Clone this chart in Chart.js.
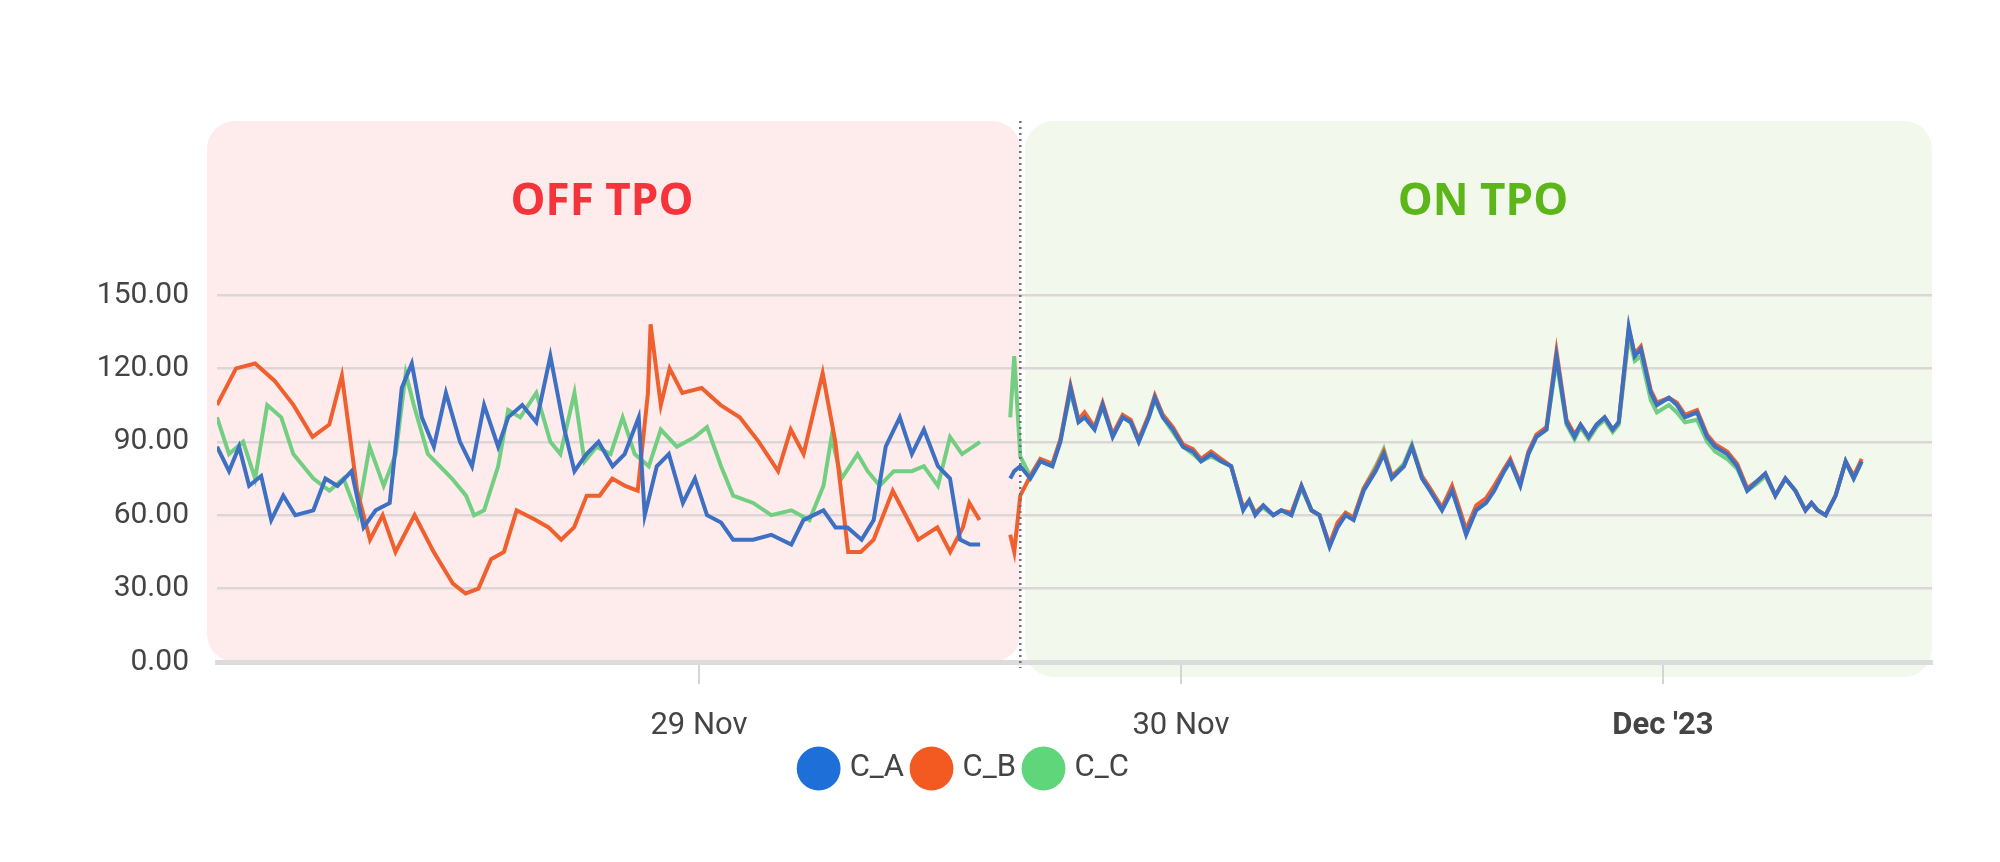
<!DOCTYPE html>
<html><head><meta charset="utf-8">
<script src="https://cdn.jsdelivr.net/npm/chart.js@4"></script>
<style>html,body{margin:0;background:#fff}#w{width:2000px;height:862px}</style>
</head><body><div id="w"><canvas id="c"></canvas></div>
<script>
const seriesNames = ['C_A','C_B','C_C'];
const yTicks = [0,30,60,90,120,150];
const xTickLabels = {24:'29 Nov',48:'30 Nov',72:"Dec '23"};
// hours since 28 Nov 00:00
const tOffA = [0,0.6,1.1,1.6,2.2,2.7,3.3,3.9,4.8,5.4,6.0,6.7,7.3,7.9,8.6,9.2,9.7,10.2,10.8,11.4,12.1,12.7,13.3,14.0,14.5,15.2,15.9,16.6,17.3,17.8,18.4,19.0,19.7,20.3,21.0,21.3,21.9,22.5,23.2,23.8,24.4,25.1,25.7,26.7,27.6,28.6,29.2,30.2,30.8,31.4,32.1,32.7,33.3,34.0,34.6,35.2,35.9,36.5,37.0,37.5,38.0];
const vOffA = [88,78,88,72,76,58,68,60,62,75,72,78,55,62,65,112,122,100,88,110,90,80,105,88,100,105,98,125,95,78,85,90,80,85,100,60,80,85,65,75,60,57,50,50,52,48,58,62,55,55,50,58,88,100,85,95,80,75,50,48,48];
const tOffB = [0,0.95,1.9,2.86,3.81,4.76,5.59,6.22,6.98,7.62,8.25,8.89,9.84,10.79,11.75,12.38,13.02,13.65,14.29,14.92,15.87,16.51,17.14,17.78,18.41,19.05,19.68,20.32,20.95,21.46,21.59,22.1,22.54,23.17,24.13,25.08,26.03,26.98,27.94,28.57,29.21,30.16,30.79,31.43,32.06,32.7,33.65,34.29,34.92,35.87,36.51,37.14,37.46,37.97];
const vOffB = [105,120,122,115,105,92,97,117,70,50,60,45,60,45,32,28,30,42,45,62,58,55,50,55,68,68,75,72,70,110,138,105,120,110,112,105,100,90,78,95,85,118,90,45,45,50,70,60,50,55,45,55,65,58];
const tOffC = [0,0.6,1.3,1.9,2.5,3.2,3.8,4.8,5.6,6.3,7.0,7.6,8.3,8.9,9.4,9.8,10.5,11.1,11.7,12.4,12.8,13.3,14.0,14.5,15.1,15.9,16.6,17.1,17.8,18.3,18.9,19.6,20.2,20.8,21.5,22.1,22.9,23.8,24.4,25.1,25.7,26.7,27.6,28.6,29.5,30.2,30.6,31.1,31.9,32.4,33.0,33.7,34.6,35.2,35.9,36.5,37.1,38.0];
const vOffC = [100,85,90,75,105,100,85,75,70,75,60,88,72,85,118,105,85,80,75,68,60,62,80,103,100,110,90,85,110,82,88,85,100,85,80,95,88,92,96,80,68,65,60,62,58,72,92,75,85,78,72,78,78,80,72,92,85,90];
const tStartOn = [39.5,39.7];
const vStartA = [75,78];
const vStartB = [52,45];
const vStartC = [100,125];
const tOn = [40.0,40.5,41.0,41.6,42.0,42.5,42.9,43.2,43.7,44.1,44.6,45.1,45.5,45.9,46.4,46.7,47.1,47.6,48.1,48.6,49.0,49.5,50.0,50.5,51.1,51.4,51.7,52.1,52.6,53.0,53.5,54.0,54.5,54.9,55.4,55.8,56.2,56.6,57.1,57.7,58.1,58.5,59.1,59.5,60.0,60.4,61.0,61.5,61.9,62.2,62.7,63.2,63.6,64.1,64.4,64.9,65.3,65.7,66.2,66.7,67.2,67.6,67.9,68.3,68.7,69.1,69.5,69.8,70.3,70.6,70.9,71.4,71.7,72.3,72.7,73.1,73.7,74.2,74.6,75.2,75.7,76.2,76.7,77.1,77.6,78.1,78.6,79.1,79.4,79.7,80.1,80.6,81.1,81.5,81.9];
const vOnA = [80,75,82,80,90,112,98,100,95,105,92,100,98,90,100,108,100,95,88,86,82,85,82,80,62,66,60,64,60,62,60,72,62,60,47,55,60,58,70,78,85,75,80,88,75,70,62,70,60,52,62,65,70,78,82,72,85,92,95,125,98,92,97,92,97,100,95,98,137,125,128,110,105,108,105,100,102,92,88,85,80,70,74,77,68,75,70,62,65,62,60,68,82,75,82];
const vOnB = [68,76,83,81,91,113,99,102,96,106,93,101,99,91,101,109,101,96,89,87,83,86,83,80,63,66,61,64,60,62,61,72,62,60,48,57,61,59,71,79,86,76,80,88,76,71,63,72,62,54,64,67,72,79,83,73,86,93,96,127,99,93,97,92,97,100,95,98,136,126,129,111,106,108,106,101,103,93,89,86,81,71,74,77,68,75,70,62,65,62,60,68,82,76,83];
const vOnC = [84,76,83,81,91,110,99,100,96,104,93,100,98,90,100,107,100,94,88,85,82,84,82,80,63,65,61,63,60,62,60,71,62,60,48,56,61,59,71,80,87,76,81,89,76,71,63,71,61,53,62,66,71,79,82,73,85,92,95,123,97,91,96,91,96,99,94,97,133,123,125,107,102,105,102,98,99,90,86,83,79,70,73,76,68,75,70,62,65,62,60,68,82,75,82];
const splitHour = 40.0;

function build(tOff,vOff,tS,vS,vOn){
  const d=[];
  tOff.forEach((t,i)=>d.push({x:t,y:vOff[i]}));
  d.push({x:38.8,y:null});
  tS.forEach((t,i)=>d.push({x:t,y:vS[i]}));
  tOn.forEach((t,i)=>d.push({x:t,y:vOn[i]}));
  return d;
}
const colors=['#3d6fc2','#f0602e','#72cf82'];
const legendColors=['#1f6fd8','#f25a22','#5fd67a'];

const bgPlugin={id:'bg',beforeDraw(ch){
  const c=ch.ctx,xs=ch.scales.x,ys=ch.scales.y;
  const sx=xs.getPixelForValue(splitHour);
  const y0=ys.getPixelForValue(0);
  c.save();
  c.fillStyle='#feecec';
  c.beginPath();c.roundRect(207,121,sx-207,y0-121,28);c.fill();
  c.fillStyle='#f2f8ec';
  c.beginPath();c.roundRect(sx+5,121,1932-sx-5,y0+15-121,28);c.fill();
  c.font='bold 44px "Open Sans", sans-serif';c.textAlign='center';c.textBaseline='middle';
  c.fillStyle='#f5333a';c.fillText('OFF TPO',602,202);
  c.fillStyle='#5cb61a';c.fillText('ON TPO',1483,202);
  c.restore();
},afterDatasetsDraw(ch){
  const c=ch.ctx,sx=ch.scales.x.getPixelForValue(splitHour);
  c.save();c.strokeStyle='#6a7180';c.lineWidth=2.5;c.setLineDash([2,4]);
  c.beginPath();c.moveTo(sx,121);c.lineTo(sx,668);c.stroke();c.restore();
}};

new Chart(document.getElementById('c'),{
  type:'line',
  data:{datasets:[
    {label:seriesNames[0],data:build(tOffA,vOffA,tStartOn,vStartA,vOnA),borderColor:colors[0],backgroundColor:legendColors[0]},
    {label:seriesNames[1],data:build(tOffB,vOffB,tStartOn,vStartB,vOnB),borderColor:colors[1],backgroundColor:legendColors[1]},
    {label:seriesNames[2],data:build(tOffC,vOffC,tStartOn,vStartC,vOnC),borderColor:colors[2],backgroundColor:legendColors[2]}
  ]},
  options:{
    responsive:true,maintainAspectRatio:false,animation:false,
    layout:{padding:{left:0,right:68,top:295,bottom:68}},
    elements:{point:{radius:0},line:{borderWidth:4,tension:0,spanGaps:false}},
    scales:{
      x:{type:'linear',min:0,max:85.4,
        afterBuildTicks(s){s.ticks=[24,48,72].map(v=>({value:v}));},
        afterFit(s){s.height=79;},
        grid:{drawOnChartArea:false,drawTicks:true,tickLength:22,color:'#d5d5d5',lineWidth:2},
        border:{display:true,color:'#dcdcdc',width:5},
        ticks:{padding:24,color:'#444',font:c=>({family:'Roboto',size:31,weight:c.tick&&c.tick.value===72?'bold':'normal'}),
          callback:v=>xTickLabels[v]||''}},
      y:{min:0,max:150,
        afterBuildTicks(s){s.ticks=yTicks.map(v=>({value:v}));},
        afterFit(s){s.width=217;},
        grid:{color:'#dcd6d6',lineWidth:2.5,drawTicks:false},
        border:{display:false},
        ticks:{padding:28,color:'#444',font:{family:'Roboto',size:30},callback:v=>v.toFixed(2)}}
    },
    plugins:{
      legend:{position:'bottom',labels:{usePointStyle:true,pointStyle:'circle',boxWidth:34,boxHeight:34,padding:12,color:'#444',font:{family:'Roboto',size:31},
        generateLabels(ch){return ch.data.datasets.map((d,i)=>({text:d.label,fillStyle:legendColors[i],strokeStyle:legendColors[i],lineWidth:0,pointStyle:'circle',datasetIndex:i,fontColor:'#444'}));}}},
      tooltip:{enabled:false}
    }
  },
  plugins:[bgPlugin]
});
</script></body></html>
